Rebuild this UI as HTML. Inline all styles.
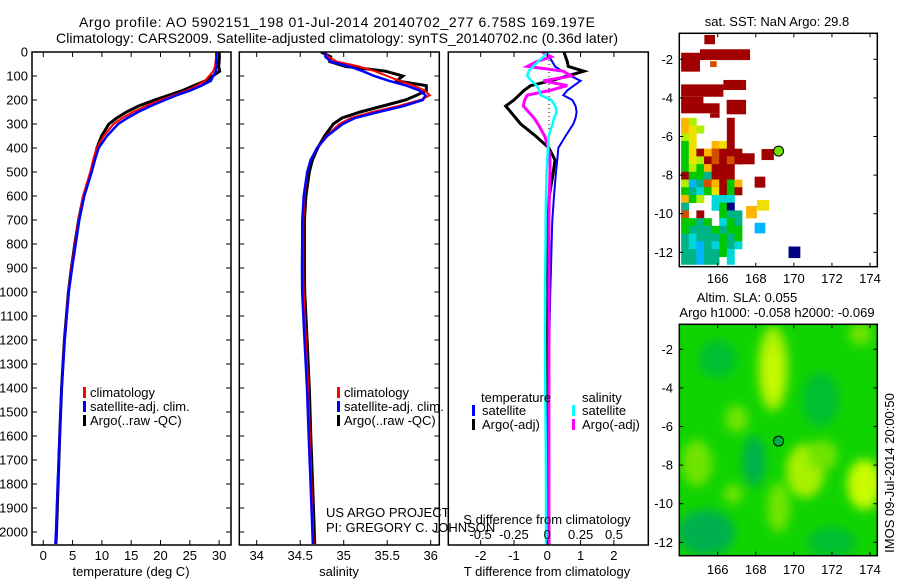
<!DOCTYPE html>
<html><head><meta charset="utf-8"><title>Argo profile</title>
<style>
html,body{margin:0;padding:0;background:#fff;}
svg{display:block;font-family:"Liberation Sans",Arial,sans-serif;}
text{fill:#000;}
</style></head>
<body>
<svg id="fig" xmlns="http://www.w3.org/2000/svg" width="900" height="580" viewBox="0 0 900 580">
  <defs>
    <clipPath id="cp1"><rect x="32" y="52" width="199" height="493"/></clipPath>
    <clipPath id="cp2"><rect x="239" y="52" width="200" height="493"/></clipPath>
    <clipPath id="cp3"><rect x="448" y="52" width="200" height="493"/></clipPath>
    <clipPath id="cpm1"><rect x="679.3" y="33.3" width="198" height="233.4"/></clipPath>
    <clipPath id="cpm2"><rect x="679.3" y="324.3" width="198" height="231.4"/></clipPath>
    <filter id="blur" x="-20%" y="-20%" width="140%" height="140%"><feGaussianBlur stdDeviation="5"/></filter>
  </defs>
  <g>
    <text x="337" y="27" font-size="14" text-anchor="middle" textLength="516">Argo profile: AO 5902151_198 01-Jul-2014 20140702_277 6.758S 169.197E</text>
    <text x="337" y="43" font-size="14" text-anchor="middle" textLength="562">Climatology: CARS2009. Satellite-adjusted climatology: synTS_20140702.nc (0.36d later)</text>
  </g>
  <g id="p1"></g>
  <g id="p2"></g>
  <g id="p3"></g>
  <g id="m1"></g>
  <g id="m2"></g>
  <text transform="translate(894,473) rotate(-90)" font-size="13" text-anchor="middle">IMOS 09-Jul-2014 20:00:50</text>
</svg>
<script>
const depths   = [0,20,40,60,80,100,120,140,160,180,200,225,250,275,300,350,400,450,500,600,700,800,900,1000,1200,1400,1600,1800,2000,2050];
const climT    = [29.5,29.5,29.4,29.3,29.0,28.3,27.6,26.2,24.5,22.3,20.0,17.5,15.3,13.5,12.0,10.3,9.1,8.5,8.0,6.8,6.0,5.4,4.8,4.27,3.6,3.1,2.8,2.5,2.2,2.1];
const satTdiff = [0,0.05,0.15,0.23,0.45,0.7,1.0,0.8,0.6,0.48,0.75,0.85,0.88,0.85,0.78,0.55,0.33,0.3,0.26,0.2,0.15,0.13,0.11,0.09,0.06,0.03,0,-0.04,-0.04,-0.03];
const argoTdiff= [0.5,0.55,0.6,0.63,1.1,0.6,0.1,-0.5,-0.7,-0.85,-1.0,-1.25,-1.1,-0.95,-0.8,-0.35,0.05,0.23,0.18,0.06,0.02,-0.02,0,0.02,0,0.02,0,0.02,0.05,0.05];
const climS    = [34.78,34.82,34.92,35.17,35.36,35.5,35.64,35.8,35.93,35.99,35.88,35.63,35.33,35.08,34.95,34.8,34.69,34.62,34.585,34.55,34.536,34.536,34.536,34.54,34.567,34.593,34.61,34.63,34.65,34.655];
const satSdiff = [0.01,-0.03,-0.07,-0.105,-0.14,-0.15,-0.12,-0.08,-0.06,-0.05,0.03,0.06,0.07,0.05,0.04,0.01,0.005,0,-0.005,-0.01,-0.012,-0.013,-0.015,-0.017,-0.017,-0.015,-0.012,-0.01,-0.01,-0.01];
const argoSdiff= [-0.04,0.03,-0.08,-0.15,0.12,0.18,-0.03,0.15,0.02,-0.15,-0.17,-0.18,-0.14,-0.1,-0.07,-0.02,0.01,0.02,0.02,0.015,0.012,0.012,0.012,0.012,0.012,0.012,0.012,0.012,0.012,0.012];
const depthTicks = [0,100,200,300,400,500,600,700,800,900,1000,1100,1200,1300,1400,1500,1600,1700,1800,1900,2000];
const tempTicks = [0,5,10,15,20,25,30];
const salTicks = [34,34.5,35,35.5,36];
const tdiffTicks = [-2,-1,0,1,2];
const sdiffTicks = [-0.5,-0.25,0,0.25,0.5];
const sdiffLabels = ["-0.5","-0.25","0","0.25","0.5"];
const lonTicks = [166,168,170,172,174];
const latTicks = [-2,-4,-6,-8,-10,-12];
const argoLon = 169.197, argoLat = -6.758;
// SST map: big blocks [lon0, lon1, latTop, latBottom, colourCode]
const sstBlocks = [
 [165.3,165.86,-0.74,-1.22,'R'],[165.07,167.7,-1.48,-2.04,'R'],[164.08,165.07,-1.66,-2.64,'R'],
 [165.6,165.95,-2.1,-2.4,'O'],[166.3,167.49,-3.07,-3.59,'R'],[164.08,166.3,-3.3,-3.94,'R'],
 [164.08,165.25,-3.94,-4.3,'R'],[164.08,166.1,-4.28,-4.8,'R'],[165.6,166.1,-4.8,-5.03,'R'],
 [166.47,167.49,-4.1,-4.85,'R'],[167.1,167.94,-6.87,-7.44,'R'],[168.3,168.95,-6.65,-7.22,'R'],
 [167.94,168.5,-8.08,-8.65,'R'],[167.49,168.06,-9.6,-10.24,'A'],[168.06,168.7,-9.29,-9.84,'Y'],
 [167.94,168.5,-10.47,-11.02,'B'],[169.72,170.34,-11.7,-12.3,'D']
];
const sstGridLon0 = 164.08, sstGridLat0 = -5.03, sstGridStep = 0.4;
const sstGrid = [
 "AL....R.","AYL...R.","LY....R.","GY..AYR.","GYRAORRR","GYLROROR","GLGARRR.","RGGTRRR.",
 "LBTOARGA","GTCGYRGR","AGL.CCC.","T...CGD.","O.R..GTT","GGTG.CGT","GTTTGTGG","TCTTTGTG",
 "TCBTCGTC","TTBTTGC.","TTBTT.C."
];
const sstColors = {R:'#a00000',O:'#d05000',A:'#ffb400',Y:'#f0e000',L:'#b0f000',G:'#00c800',T:'#00b488',C:'#00d8d8',B:'#00b4ff',D:'#000080'};
// SLA map: smooth anomaly blobs [lon, lat, radiusLon, radiusLat, colourCode]
const slaBlobs = [
 [168.9,-3.0,0.8,2.2,'L'],[168.9,-3.2,0.4,1.4,'Y'],[167.0,-5.6,0.6,0.7,'l'],
 [170.6,-8.3,1.0,1.4,'L'],[171.5,-7.5,0.8,0.8,'l'],[173.7,-9.0,0.9,1.3,'Y'],
 [164.9,-7.9,0.8,1.2,'l'],[166.8,-9.5,0.5,0.5,'l'],[169.2,-10.2,0.6,1.3,'l'],
 [165.4,-11.5,1.5,1.2,'d'],[167.9,-7.8,0.6,1.3,'d'],[171.4,-4.6,1.0,1.4,'m'],
 [172.0,-12.0,1.3,0.8,'m'],[166.0,-2.5,1.0,1.0,'m'],[173.5,-1.2,0.6,0.6,'l']
];
const slaColors = {L:'#a8f000',Y:'#c8fa00',l:'#70e400',d:'#00b050',m:'#00c030'};
const SLA_BASE = '#10d400';

const NS='http://www.w3.org/2000/svg';
function mk(tag, attrs, parent){const e=document.createElementNS(NS,tag);for(const k in attrs)e.setAttribute(k,attrs[k]);parent.appendChild(e);return e;}
const yD = d => 52 + d*0.24;
const xT = t => 43.3 + t*5.86;
const xS = s => 256.7 + (s-34)*87;
const xdT = v => 547.3 + v*33.3;
const xdS = v => 547.3 + v*133.4;
const mx = lon => 717.7 + (lon-166)*19.04;
const my1 = lat => 59.3 + (-2-lat)*19.3;
const my2 = lat => 349.3 + (-2-lat)*19.3;

function pathFrom(vals, xf){return depths.map((d,i)=>(i?'L':'M')+xf(vals[i]).toFixed(1)+','+yD(d).toFixed(1)).join('');}
function frame(g, x, y, w, h, name){
  const r=mk('rect',{x:x,y:y,width:w,height:h,fill:'none',stroke:'#000','stroke-width':1.5},g);
  
  
}
function yTicks(g, x0, x1, labels){
  depthTicks.forEach(d=>{
    const y=yD(d);
    const t1=mk('line',{x1:x0,y1:y,x2:x0+5,y2:y,stroke:'#000','stroke-width':1},g);
    
    
    const t2=mk('line',{x1:x1-5,y1:y,x2:x1,y2:y,stroke:'#000','stroke-width':1},g);
    
    
    if(labels){
      const tx=mk('text',{x:28,y:y+4.5,'font-size':13,'text-anchor':'end'},g);
      tx.textContent=d;
      
      
    }
  });
}
function xTicks(g, ticks, xf, labelY, fmt){
  ticks.forEach((v,i)=>{
    const x=xf(v);
    const a=mk('line',{x1:x,y1:52,x2:x,y2:57,stroke:'#000','stroke-width':1},g);
    
    
    const b=mk('line',{x1:x,y1:540,x2:x,y2:545,stroke:'#000','stroke-width':1},g);
    
    
    const t=mk('text',{x:x,y:labelY,'font-size':13,'text-anchor':'middle'},g);
    t.textContent=fmt?fmt(v,i):v;
    
    
  });
}
function series(g, vals, xf, color, w, clip, name){
  const p=mk('path',{d:pathFrom(vals,xf),fill:'none',stroke:color,'stroke-width':w,'stroke-linejoin':'miter','clip-path':'url(#'+clip+')'},g);
  
  
}
function text(g, x, y, s, size, name, anchor){
  const t=mk('text',{x:x,y:y,'font-size':size,'text-anchor':anchor||'start'},g);
  t.textContent=s;
  
  
  return t;
}
function legendBar(g, x, y, color){
  const r=mk('rect',{x:x,y:y-10,width:3,height:11,fill:color},g);
  
  
}
const sum = (a,b)=>a.map((v,i)=>v+b[i]);

// Panel 1
const p1=document.getElementById('p1');
series(p1, sum(climT,argoTdiff), xT, '#000', 3, 'cp1', 'argo-temperature-line');
series(p1, climT, xT, '#f00', 2, 'cp1', 'climatology-temperature-line');
series(p1, sum(climT,satTdiff), xT, '#00f', 2.5, 'cp1', 'satellite-temperature-line');
frame(p1,32,52,199,493,'temperature-plot-frame');
yTicks(p1,32,231,true);
xTicks(p1,tempTicks,xT,560);
text(p1,131,576,'temperature (deg C)',13,'x-axis-title','middle');
[['climatology','#f00',397],['satellite-adj. clim.','#00f',411],['Argo(..raw -QC)','#000',425]].forEach(e=>{legendBar(p1,83,e[2],e[1]);text(p1,90,e[2],e[0],13,'legend-entry');});

// Panel 2
const p2=document.getElementById('p2');
series(p2, sum(climS,argoSdiff), xS, '#000', 3, 'cp2', 'argo-salinity-line');
series(p2, climS, xS, '#f00', 2, 'cp2', 'climatology-salinity-line');
series(p2, sum(climS,satSdiff), xS, '#00f', 2.5, 'cp2', 'satellite-salinity-line');
frame(p2,239.3,52,200,493,'salinity-plot-frame');
yTicks(p2,239.3,439.3,false);
xTicks(p2,salTicks,xS,560);
text(p2,339,576,'salinity',13,'x-axis-title','middle');
[['climatology','#f00',397],['satellite-adj. clim.','#00f',411],['Argo(..raw -QC)','#000',425]].forEach(e=>{legendBar(p2,337,e[2],e[1]);text(p2,344,e[2],e[0],13,'legend-entry');});
text(p2,326,517,'US ARGO PROJECT',13,'credit-project');
text(p2,326,532,'PI: GREGORY C. JOHNSON',13,'credit-pi');

// Panel 3
const p3=document.getElementById('p3');
const z=mk('line',{x1:549,y1:52,x2:549,y2:545,stroke:'#000','stroke-width':1,'stroke-dasharray':'1,3'},p3);


series(p3, argoTdiff, xdT, '#000', 3, 'cp3', 'argo-t-diff-line');
series(p3, satTdiff, xdT, '#00f', 2, 'cp3', 'satellite-t-diff-line');
series(p3, argoSdiff, xdS, '#f0f', 3, 'cp3', 'argo-s-diff-line');
series(p3, satSdiff, xdS, '#0ff', 2.5, 'cp3', 'satellite-s-diff-line');
frame(p3,448.3,52,200,493,'difference-plot-frame');
xTicks(p3,tdiffTicks,xdT,560);
text(p3,547,576,'T difference from climatology',13,'t-axis-title','middle');
text(p3,547,524,'S difference from climatology',13,'s-axis-title','middle');
sdiffTicks.forEach((v,i)=>{text(p3,xdS(v),539,sdiffLabels[i],13,'s-tick-label','middle');});
text(p3,481,402,'temperature',13,'legend-heading');
text(p3,582,402,'salinity',13,'legend-heading');
legendBar(p3,472,415,'#00f');text(p3,482,415,'satellite',13,'legend-entry');
legendBar(p3,472,429,'#000');text(p3,482,429,'Argo(-adj)',13,'legend-entry');
legendBar(p3,572,415,'#0ff');text(p3,582,415,'satellite',13,'legend-entry');
legendBar(p3,572,429,'#f0f');text(p3,582,429,'Argo(-adj)',13,'legend-entry');

// Maps common
function mapAxes(g, myf, top, bottom, labY){
  const r=mk('rect',{x:679.3,y:top,width:198,height:bottom-top,fill:'none',stroke:'#000','stroke-width':1.5},g);
  
  
  lonTicks.forEach(l=>{
    const x=mx(l);
    const a=mk('line',{x1:x,y1:top,x2:x,y2:top+4,stroke:'#000'},g);
    
    
    const b=mk('line',{x1:x,y1:bottom-4,x2:x,y2:bottom,stroke:'#000'},g);
    
    
    text(g,x,labY,String(l),13,'lon-tick-label','middle');
  });
  latTicks.forEach(l=>{
    const y=myf(l);
    const a=mk('line',{x1:873.3,y1:y,x2:877.3,y2:y,stroke:'#000'},g);
    
    
    const b=mk('line',{x1:679.3,y1:y,x2:683.3,y2:y,stroke:'#000'},g);
    
    
    text(g,673,y+4.5,String(l),13,'lat-tick-label','end');
  });
}
// SST map
const m1=document.getElementById('m1');
const c1=mk('g',{'clip-path':'url(#cpm1)'},m1);
sstBlocks.forEach(b=>{
  const r=mk('rect',{x:mx(b[0]),y:my1(b[2]),width:mx(b[1])-mx(b[0]),height:my1(b[3])-my1(b[2]),fill:sstColors[b[4]]},c1);
  
  
});
sstGrid.forEach((row,i)=>{
  row.split('').forEach((ch,j)=>{
    if(ch==='.')return;
    const lon0=sstGridLon0+j*sstGridStep, lat0=sstGridLat0-i*sstGridStep;
    const r=mk('rect',{x:mx(lon0),y:my1(lat0),width:sstGridStep*19.04+0.3,height:sstGridStep*19.3+0.3,fill:sstColors[ch]},c1);
    
    
  });
});
const ac1=mk('circle',{cx:mx(argoLon),cy:my1(argoLat),r:5,fill:'#70e000',stroke:'#000','stroke-width':1},m1);


mapAxes(m1,my1,33.3,266.7,283);
text(m1,777,26,'sat. SST: NaN Argo: 29.8',13,'sst-map-title','middle');

// SLA map
const m2=document.getElementById('m2');
const c2=mk('g',{'clip-path':'url(#cpm2)'},m2);
const base=mk('rect',{x:679.3,y:324.3,width:198,height:231.4,fill:SLA_BASE},c2);


const bg=mk('g',{filter:'url(#blur)'},c2);
slaBlobs.forEach(b=>{
  const e=mk('ellipse',{cx:mx(b[0]),cy:my2(b[1]),rx:b[2]*19.04,ry:b[3]*19.3,fill:slaColors[b[4]]},bg);
  
  
});
const ac2=mk('circle',{cx:mx(argoLon),cy:my2(argoLat),r:5,fill:'#00b040',stroke:'#000','stroke-width':1},m2);


mapAxes(m2,my2,324.3,555.7,574);
text(m2,747,302,'Altim. SLA: 0.055',13,'sla-map-title','middle');
text(m2,777,317,'Argo h1000: -0.058 h2000: -0.069',13,'sla-map-subtitle','middle');
</script>
</body></html>
